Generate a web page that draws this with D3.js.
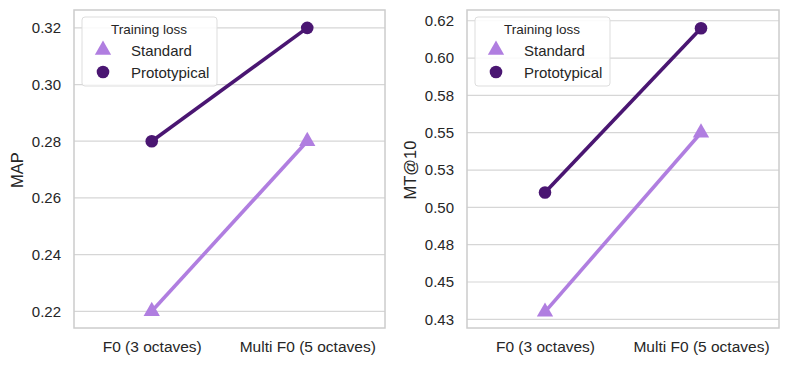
<!DOCTYPE html>
<html><head><meta charset="utf-8">
<script src="https://cdn.jsdelivr.net/npm/d3@7"></script>
<style>body{margin:0;background:#fff;} text{font-family:"Liberation Sans",Arial,sans-serif;fill:#262626;}</style>
</head><body><svg id="c" width="789" height="366"></svg>
<script>
const categories = ["F0 (3 octaves)", "Multi F0 (5 octaves)"];
const seriesNames = ["Standard", "Prototypical"];
const mapStandard = [0.22, 0.28];
const mapPrototypical = [0.28, 0.32];
const mtStandard = [0.43, 0.55];
const mtPrototypical = [0.51, 0.62];
const mapTicks = [0.22, 0.24, 0.26, 0.28, 0.30, 0.32];
const mapTickLabels = ["0.22", "0.24", "0.26", "0.28", "0.30", "0.32"];
const mtTicks = [0.425, 0.45, 0.475, 0.5, 0.525, 0.55, 0.575, 0.6, 0.625];
const mtTickLabels = ["0.43", "0.45", "0.48", "0.50", "0.53", "0.55", "0.58", "0.60", "0.62"];
const colors = {Standard: "#b07ee0", Prototypical: "#4a1672"};

const svg = d3.select("#c");
const panels = [
  {x0: 74, x1: 385, y0: 10, y1: 328, domain: [0.2141, 0.3263], ticks: mapTicks, labels: mapTickLabels, title: "MAP",
   data: {Standard: mapStandard, Prototypical: mapPrototypical}, titleX: 17},
  {x0: 467, x1: 779, y0: 10, y1: 328, domain: [0.4192, 0.6322], ticks: mtTicks, labels: mtTickLabels, title: "MT@10",
   data: {Standard: mtStandard, Prototypical: mtPrototypical}, titleX: 410}
];

panels.forEach(p => {
  const g = svg.append("g");
  const x = d3.scalePoint().domain(categories).range([p.x0, p.x1]).padding(0.5);
  const y = d3.scaleLinear().domain(p.domain).range([p.y1, p.y0]);
  // grid
  g.selectAll("line.grid").data(p.ticks).join("line")
    .attr("x1", p.x0).attr("x2", p.x1)
    .attr("y1", d => y(d)).attr("y2", d => y(d))
    .attr("stroke", "#d6d6d6").attr("stroke-width", 1.2);
  // y axis labels
  const ya = d3.axisLeft(y).tickValues(p.ticks).tickSize(0).tickPadding(13)
    .tickFormat((d, i) => p.labels[i]);
  const yg = g.append("g").attr("transform", `translate(${p.x0},0)`).call(ya);
  yg.select(".domain").remove();
  yg.selectAll("text").attr("font-size", 15).attr("fill", "#262626")
    .style("font-family", '"Liberation Sans",Arial,sans-serif');
  // x axis labels
  const xa = d3.axisBottom(x).tickSize(0).tickPadding(13);
  const xg = g.append("g").attr("transform", `translate(0,${p.y1})`).call(xa);
  xg.select(".domain").remove();
  xg.selectAll("text").attr("font-size", 15.5).attr("fill", "#262626")
    .style("font-family", '"Liberation Sans",Arial,sans-serif');
  // frame
  g.append("rect").attr("x", p.x0).attr("y", p.y0).attr("width", p.x1 - p.x0).attr("height", p.y1 - p.y0)
    .attr("fill", "none").attr("stroke", "#cccccc").attr("stroke-width", 1.5);
  // y title
  g.append("text").attr("transform", `translate(${p.titleX + 6},${(p.y0 + p.y1) / 2 + 1}) rotate(-90)`)
    .attr("text-anchor", "middle").attr("font-size", 16.5).text(p.title);
  // lines & markers
  const line = d3.line().x((d, i) => x(categories[i])).y(d => y(d));
  seriesNames.forEach(s => {
    g.append("path").datum(p.data[s]).attr("d", line)
      .attr("fill", "none").attr("stroke", colors[s]).attr("stroke-width", 3.6);
    if (s === "Prototypical") {
      g.selectAll(null).data(p.data[s]).join("circle")
        .attr("cx", (d, i) => x(categories[i])).attr("cy", d => y(d)).attr("r", 6.3)
        .attr("fill", colors[s]);
    } else {
      g.selectAll(null).data(p.data[s]).join("path")
        .attr("d", d3.symbol(d3.symbolTriangle, 115))
        .attr("transform", (d, i) => `translate(${x(categories[i])},${y(d)})`)
        .attr("fill", colors[s]);
    }
  });
  // legend
  const lx = p.x0 + 8, ly = 17;
  const lg = g.append("g");
  lg.append("rect").attr("x", lx).attr("y", ly).attr("width", 135).attr("height", 69).attr("rx", 3)
    .attr("fill", "rgba(255,255,255,0.85)").attr("stroke", "#dddddd").attr("stroke-width", 1);
  lg.append("text").attr("x", lx + 67).attr("y", ly + 17).attr("text-anchor", "middle").attr("font-size", 13.5).text("Training loss");
  seriesNames.forEach((s, i) => {
    const cy = ly + 33 + i * 22;
    if (s === "Prototypical") {
      lg.append("circle").attr("cx", lx + 21).attr("cy", cy).attr("r", 6.3).attr("fill", colors[s]);
    } else {
      lg.append("path").attr("d", d3.symbol(d3.symbolTriangle, 115)).attr("transform", `translate(${lx + 21},${cy})`).attr("fill", colors[s]);
    }
    lg.append("text").attr("x", lx + 49).attr("y", cy + 5.5).attr("font-size", 15).text(s);
  });
});
</script></body></html>
